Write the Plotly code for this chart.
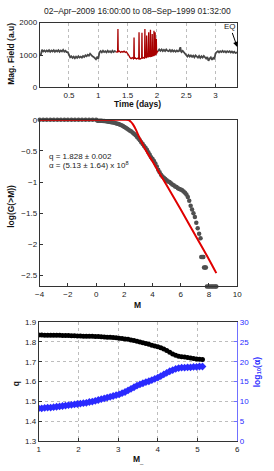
import plotly.graph_objects as go

# ---------------- Panel 1: magnetic field time series ----------------
gray1_t = [0.00, 0.02, 0.04, 0.06, 0.08, 0.10, 0.12, 0.14, 0.16, 0.18, 0.20, 0.22, 0.24, 0.26, 0.28,
           0.30, 0.32, 0.34, 0.36, 0.38, 0.40, 0.42, 0.44, 0.46, 0.48, 0.50, 0.52, 0.54, 0.56, 0.58,
           0.60, 0.62, 0.64, 0.66, 0.68, 0.70, 0.72, 0.74, 0.76, 0.78, 0.80, 0.82, 0.84, 0.86, 0.88,
           0.90, 0.92, 0.94, 0.96, 0.98, 1.00, 1.02, 1.04, 1.06, 1.08, 1.10, 1.12, 1.14, 1.16, 1.18,
           1.20, 1.22, 1.24, 1.26, 1.28, 1.30]
gray1_v = [980, 1010, 1160, 1110, 1140, 1100, 1140, 1110, 1150, 1100, 1140, 1110, 1150, 1100, 1140,
           1110, 1150, 1100, 1140, 1110, 1160, 1100, 1130, 1090, 1090, 1010, 930, 960, 910, 950,
           900, 950, 910, 960, 920, 950, 920, 970, 940, 990, 960, 1010, 980, 1040, 990,
           960, 940, 890, 870, 930, 890, 1080, 1120, 1080, 1130, 1090, 1120, 1080, 1130, 1090,
           1120, 1080, 1130, 1090, 1120, 1100]

red_t = [1.30, 1.32, 1.33, 1.335, 1.34, 1.36, 1.38, 1.40, 1.42, 1.44, 1.46, 1.48,
         1.50, 1.52, 1.54, 1.56, 1.58, 1.60, 1.605, 1.61, 1.615, 1.63, 1.65, 1.67, 1.69,
         1.695, 1.70, 1.72, 1.74, 1.745, 1.75, 1.77, 1.79, 1.795, 1.80, 1.81, 1.82,
         1.825, 1.83, 1.84, 1.85, 1.86, 1.865, 1.875, 1.885, 1.89, 1.895, 1.905,
         1.915, 1.92, 1.925, 1.935, 1.945, 1.95, 1.955, 1.96, 1.965, 1.97, 1.975,
         1.98, 1.985, 1.99, 1.995, 2.005, 2.02]
red_v = [1100, 1090, 1110, 1800, 1100, 1120, 1080, 1110, 1090, 1120, 1080, 1100,
         1060, 990, 920, 890, 920, 880, 900, 1540, 890, 910, 880, 900, 880,
         1700, 900, 880, 910, 1690, 890, 920, 890, 1800, 920, 1000, 900,
         1600, 930, 1050, 920, 1700, 940, 1080, 930, 1780, 950, 1100,
         940, 1650, 960, 1120, 960, 1750, 980, 1100, 990, 1700, 1010,
         1110, 1020, 1500, 1050, 1090, 1130]

gray2_t = [2.02, 2.04, 2.06, 2.08, 2.10, 2.12, 2.14, 2.16, 2.18, 2.20, 2.22, 2.24, 2.26, 2.28, 2.30,
           2.32, 2.34, 2.36, 2.38, 2.40, 2.41, 2.42, 2.44, 2.46, 2.48, 2.50, 2.52, 2.54, 2.56, 2.58,
           2.60, 2.62, 2.64, 2.66, 2.68, 2.70, 2.72, 2.74, 2.76, 2.78, 2.80, 2.82, 2.84, 2.86, 2.88,
           2.90, 2.92, 2.94, 2.96, 2.98, 3.00, 3.02, 3.04, 3.06, 3.08, 3.10, 3.12, 3.14, 3.16, 3.18,
           3.20, 3.22, 3.24, 3.26, 3.28, 3.30, 3.32, 3.34, 3.36, 3.37]
gray2_v = [1120, 1170, 1130, 1170, 1120, 1160, 1120, 1170, 1130, 1120, 1160, 1110, 1150, 1110, 1140,
           1100, 1140, 1110, 1130, 1240, 1120, 1090, 1130, 1080, 1040, 990, 950, 1000, 950, 990,
           940, 980, 930, 990, 940, 920, 970, 910, 960, 920, 970, 930, 890, 940, 820,
           890, 930, 850, 910, 870, 1050, 1090, 1120, 1080, 1120, 1090, 1130, 1090, 1120, 1080,
           1120, 1090, 1120, 1080, 1110, 1070, 1100, 1060, 1090, 1080]

p1_xticks = [0.5, 1, 1.5, 2, 2.5, 3]
p1_yticks = [0, 1000, 2000]
title_text = "02–Apr–2009 16:00:00 to 08–Sep–1999 01:32:00"

# ---------------- Panel 2: cumulative distribution ----------------
M_pts = [-4.0, -3.75, -3.5, -3.25, -3.0, -2.75, -2.5, -2.25, -2.0, -1.75, -1.5, -1.25, -1.0,
         -0.75, -0.5, -0.25, 0.0,
         0.1, 0.2, 0.3, 0.4, 0.5, 0.6, 0.7, 0.8, 0.9, 1.0, 1.1, 1.2, 1.3, 1.4, 1.5, 1.6, 1.7, 1.8,
         1.9, 2.0, 2.1, 2.2, 2.3, 2.4, 2.5, 2.6, 2.7, 2.8, 2.9, 3.0, 3.1, 3.2, 3.3, 3.4, 3.5, 3.6,
         3.7, 3.8, 3.9, 4.0, 4.1, 4.2, 4.3, 4.4, 4.5, 4.6, 4.7, 4.8, 4.9, 5.0, 5.1, 5.2, 5.3, 5.4,
         5.5, 5.6, 5.7, 5.8, 5.9, 6.0, 6.1, 6.2, 6.3, 6.4, 6.5, 6.6, 6.7, 6.8, 6.9, 7.0, 7.1, 7.2,
         7.3, 7.4, 7.45, 7.55, 7.6, 7.65, 7.72, 7.78, 7.85, 7.95, 8.05, 8.15, 8.25, 8.35, 8.45, 8.52]
logG_pts = [0.0, 0.0, 0.0, 0.0, 0.0, 0.0, 0.0, 0.0, 0.0, 0.0, 0.0, 0.0, 0.0,
            0.0, 0.0, 0.0, 0.0,
            -0.015, -0.016, -0.017, -0.018, -0.02, -0.022, -0.025, -0.028, -0.032, -0.036, -0.04,
            -0.045, -0.05, -0.056, -0.063, -0.07, -0.08, -0.09,
            -0.10, -0.115, -0.13, -0.145, -0.16, -0.175, -0.19, -0.21, -0.23, -0.25, -0.275, -0.30,
            -0.33, -0.36, -0.39, -0.42, -0.45, -0.48,
            -0.52, -0.56, -0.60, -0.63, -0.66, -0.70, -0.75, -0.80, -0.84, -0.88, -0.91, -0.93, -0.95,
            -0.97, -0.99, -1.00, -1.02, -1.04,
            -1.05, -1.07, -1.08, -1.10, -1.11, -1.12, -1.13, -1.15, -1.17, -1.20, -1.24, -1.30,
            -1.38, -1.44, -1.50, -1.56, -1.65, -1.74,
            -1.83, -1.90, -2.20, -2.20, -2.20, -2.37, -2.37, -2.37, -2.674, -2.674, -2.674, -2.674,
            -2.674, -2.674, -2.674, -2.674]
fit_M = [-4.0, 0.0, 2.0, 2.3, 2.45, 2.6, 2.8, 3.0, 3.5, 4.0, 5.0, 6.0, 7.0, 8.0, 8.52]
fit_logG = [0.0, 0.0, 0.0, -0.005, -0.03, -0.07, -0.15, -0.25, -0.48, -0.67, -1.05, -1.44, -1.84,
            -2.24, -2.46]
p2_xticks = [-4, -2, 0, 2, 4, 6, 8, 10]
p2_yticks = [0, -0.5, -1, -1.5, -2, -2.5]
p2_ytick_labels = ["0", "−0.5", "−1", "−1.5", "−2", "−2.5"]
p2_xtick_labels = ["−4", "−2", "0", "2", "4", "6", "8", "10"]

# ---------------- Panel 3: q and alpha vs threshold ----------------
Mth = [1.000, 1.075, 1.150, 1.225, 1.300, 1.375, 1.450, 1.525, 1.600, 1.675, 1.750, 1.825, 1.900,
       1.975, 2.050, 2.125, 2.200, 2.275, 2.350, 2.425, 2.500, 2.575, 2.650, 2.725, 2.800, 2.875,
       2.950, 3.025, 3.100, 3.175, 3.250, 3.325, 3.400, 3.475, 3.550, 3.625, 3.700, 3.775, 3.850,
       3.925, 4.000, 4.075, 4.150, 4.225, 4.300, 4.375, 4.450, 4.525, 4.600, 4.675, 4.750, 4.825,
       4.900, 4.975, 5.050, 5.125]
q_vals = [1.834, 1.834, 1.833, 1.833, 1.833, 1.832, 1.832, 1.832, 1.831, 1.831, 1.831, 1.830, 1.830,
          1.829, 1.829, 1.828, 1.828, 1.827, 1.827, 1.826, 1.826, 1.825, 1.824, 1.823, 1.822, 1.821,
          1.820, 1.818, 1.816, 1.814, 1.812, 1.809, 1.806, 1.803, 1.799, 1.795, 1.791, 1.787, 1.783,
          1.779, 1.775, 1.770, 1.764, 1.756, 1.747, 1.739, 1.732, 1.727, 1.725, 1.723, 1.721, 1.718,
          1.716, 1.714, 1.712, 1.711]
log_alpha = [8.3, 8.3, 8.4, 8.5, 8.5, 8.6, 8.7, 8.8, 8.9, 9.0, 9.1, 9.2, 9.3,
             9.4, 9.5, 9.6, 9.7, 9.9, 10.0, 10.2, 10.4, 10.6, 10.8, 11.0, 11.2, 11.4,
             11.6, 11.8, 12.1, 12.4, 12.8, 13.2, 13.6, 14.0, 14.3, 14.6, 14.9, 15.1, 15.4,
             15.7, 16.0, 16.4, 16.8, 17.2, 17.6, 17.9, 18.2, 18.4, 18.5, 18.5, 18.6, 18.6,
             18.7, 18.7, 18.8, 18.8]
p3_xticks = [1, 2, 3, 4, 5, 6]
p3_yticks = [1.3, 1.4, 1.5, 1.6, 1.7, 1.8, 1.9]
p3_y2ticks = [0, 5, 10, 15, 20, 25, 30]

W, H = 274, 471
FONT = "Liberation Sans, Arial, sans-serif"
BLUE = "#2a2aff"
BLUE_AX = "#7070ff"


def px(x):
    return x / W


def py(y):
    return 1 - y / H


fig = go.Figure()

fig.add_trace(go.Scatter(x=gray1_t, y=gray1_v, mode="lines", line=dict(color="#474747", width=1.8),
                         xaxis="x", yaxis="y", showlegend=False))
fig.add_trace(go.Scatter(x=gray2_t, y=gray2_v, mode="lines", line=dict(color="#474747", width=1.8),
                         xaxis="x", yaxis="y", showlegend=False))
fig.add_trace(go.Scatter(x=red_t, y=red_v, mode="lines", line=dict(color="#a80000", width=1.3),
                         xaxis="x", yaxis="y", showlegend=False))

fig.add_trace(go.Scatter(x=M_pts, y=logG_pts, mode="markers",
                         marker=dict(color="#4f4f4f", size=4.5, symbol="circle"),
                         xaxis="x2", yaxis="y2", showlegend=False, cliponaxis=False))
fig.add_trace(go.Scatter(x=fit_M, y=fit_logG, mode="lines", line=dict(color="#e00000", width=2),
                         xaxis="x2", yaxis="y2", showlegend=False, line_shape="spline"))

fig.add_trace(go.Scatter(x=Mth, y=q_vals, mode="lines+markers", line=dict(color="black", width=1),
                         marker=dict(color="black", size=5, symbol="circle"),
                         xaxis="x3", yaxis="y3", showlegend=False))
fig.add_trace(go.Scatter(x=Mth, y=log_alpha, mode="lines+markers", line=dict(color=BLUE, width=1),
                         marker=dict(color=BLUE, size=6, symbol="diamond"),
                         xaxis="x3", yaxis="y4", showlegend=False))

tickfont = dict(family=FONT, size=8, color="#222")
common_ax = dict(showline=True, linecolor="#333", linewidth=1, mirror=True, ticks="inside",
                 ticklen=3, tickcolor="#333", tickfont=tickfont, zeroline=False)

fig.update_layout(
    width=W, height=H, margin=dict(l=0, r=0, t=0, b=0),
    paper_bgcolor="white", plot_bgcolor="white",
    font=dict(family=FONT, size=8, color="#222"),
    xaxis=dict(domain=[px(36), px(241)], anchor="y", range=[0, 3.37], tickvals=p1_xticks,
               showgrid=True, gridcolor="#bdbdbd", griddash="dot", gridwidth=1, **common_ax),
    yaxis=dict(domain=[py(85), py(19)], anchor="x", range=[0, 2000], tickvals=p1_yticks,
               showgrid=False, **common_ax),
    xaxis2=dict(domain=[px(36), px(241)], anchor="y2", range=[-4, 10], tickvals=p2_xticks,
                ticktext=p2_xtick_labels, showgrid=False, **common_ax),
    yaxis2=dict(domain=[py(288), py(118)], anchor="x2", range=[-2.674, 0], tickvals=p2_yticks,
                ticktext=p2_ytick_labels, showgrid=False, **common_ax),
    xaxis3=dict(domain=[px(35), px(241)], anchor="y3", range=[1, 6], tickvals=p3_xticks,
                showgrid=True, gridcolor="#bdbdbd", griddash="dot", gridwidth=1, **common_ax),
    yaxis3=dict(domain=[py(446), py(324)], anchor="x3", range=[1.3, 1.9], tickvals=p3_yticks,
                tickformat=".1f",
                showgrid=True, gridcolor="#bdbdbd", griddash="dot", gridwidth=1, **common_ax),
    yaxis4=dict(overlaying="y3", anchor="x3", side="right", range=[0, 30], tickvals=p3_y2ticks,
                showline=True, linecolor=BLUE_AX, linewidth=1, ticks="inside", ticklen=3,
                tickcolor=BLUE_AX, tickfont=dict(family=FONT, size=8, color=BLUE),
                showgrid=False, zeroline=False),
)

lab = dict(family=FONT, size=8.5, color="#111")
ann = [
    dict(x=px(138), y=py(7), text=title_text, font=dict(family=FONT, size=8.5, color="#222")),
    dict(x=px(6), y=py(51), text="<b>Mag. Field (a.u)</b>", textangle=-90, font=lab),
    dict(x=px(138), y=py(102), text="<b>Time (days)</b>", font=lab),
    dict(x=px(6), y=py(206), text="<b>log(G(>M))</b>", textangle=-90, font=lab),
    dict(x=px(138), y=py(307), text="<b>M</b>", font=lab),
    dict(x=px(44), y=py(155), text="q = 1.828 ± 0.002", xanchor="left",
         font=dict(family=FONT, size=8, color="#222")),
    dict(x=px(44), y=py(164), text="α = (5.13 ± 1.64) x 10<sup>8</sup>", xanchor="left",
         font=dict(family=FONT, size=8, color="#222")),
    dict(x=px(11), y=py(387), text="<b>q</b>", textangle=-90, font=lab),
    dict(x=px(262), y=py(375), text="<b>log<sub>10</sub>(α)</b>", textangle=-90,
         font=dict(family=FONT, size=8.5, color=BLUE)),
    dict(x=px(139), y=py(464), text="<b>M</b><sub>_</sub>", font=lab),
]
for a in ann:
    a.setdefault("xref", "paper")
    a.setdefault("yref", "paper")
    a.setdefault("showarrow", False)
    a.setdefault("xanchor", "center")
    a.setdefault("yanchor", "middle")
fig.update_layout(annotations=ann)

fig.add_annotation(x=3.37, y=1250, xref="x", yref="y", text="EQ", showarrow=True,
                   ax=-7, ay=-20, arrowcolor="black", arrowhead=2, arrowsize=1, arrowwidth=1,
                   font=dict(family=FONT, size=8, color="#222"))

fig.write_html("out.html", config={"displayModeBar": False},
               post_script="document.body.style.margin='0';document.body.style.padding='0';")
